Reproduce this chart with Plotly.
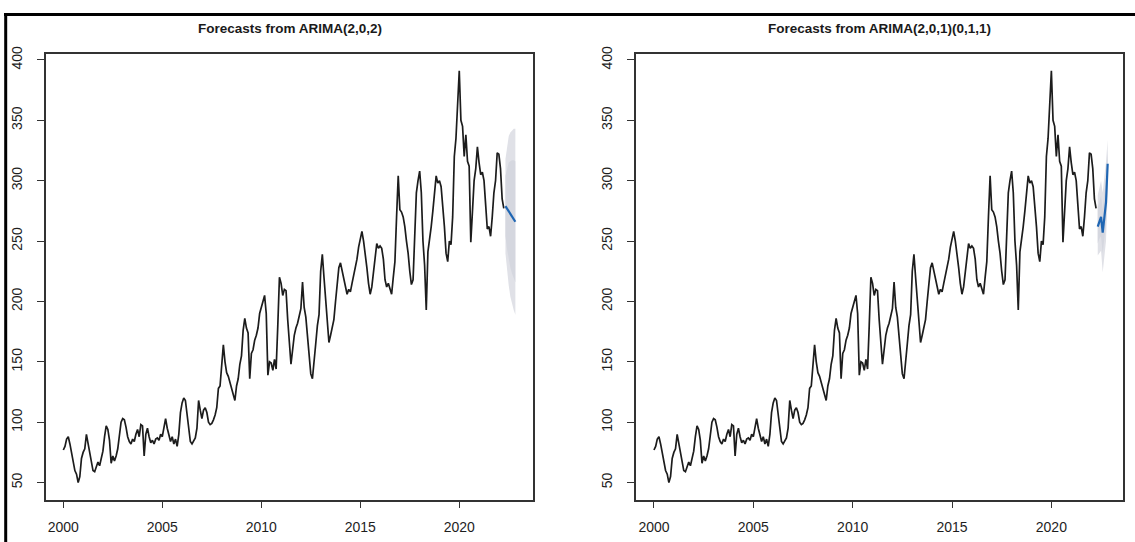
import plotly.graph_objects as go

# Monthly series, Jan 2000 .. Apr 2022
start_year = 2000
series = [
    77, 80, 86, 88, 82, 75, 68, 60, 57, 50, 55, 70,        # 2000
    75, 78, 90, 82, 74, 66, 60, 59, 64, 67, 64, 70,        # 2001
    76, 88, 97, 94, 85, 66, 72, 68, 72, 78, 88, 100,       # 2002
    103, 102, 96, 88, 84, 82, 86, 84, 90, 94, 88, 98,      # 2003
    97, 72, 90, 95, 88, 83, 85, 82, 86, 87, 85, 90,        # 2004
    88, 96, 103, 95, 90, 84, 88, 82, 86, 80, 90, 108,      # 2005
    116, 120, 118, 105, 96, 84, 82, 84, 87, 95, 118, 110,  # 2006
    103, 110, 112, 108, 100, 98, 99, 102, 106, 112, 128, 130,  # 2007
    148, 164, 150, 141, 138, 133, 128, 124, 118, 130, 136, 148,  # 2008
    155, 176, 186, 178, 174, 136, 157, 160, 168, 172, 178, 190,  # 2009
    196, 200, 205, 190, 139, 150, 149, 143, 152, 144, 180, 220,  # 2010
    215, 205, 210, 209, 185, 168, 148, 160, 172, 178, 182, 188,  # 2011
    194, 216, 195, 187, 170, 150, 140, 136, 148, 165, 180, 189,  # 2012
    225, 239, 220, 200, 185, 166, 172, 180, 185, 200, 212, 228,  # 2013
    232, 225, 220, 212, 206, 210, 208, 215, 222, 226, 235, 245,  # 2014
    252, 258, 250, 240, 228, 215, 206, 212, 225, 238, 248, 244,  # 2015
    246, 244, 235, 218, 212, 215, 210, 206, 220, 233, 270, 304,  # 2016
    276, 274, 270, 262, 250, 240, 225, 214, 218, 250, 290, 300,  # 2017
    308, 290, 250, 230, 193, 241, 250, 262, 275, 290, 304, 298,  # 2018
    300, 295, 280, 262, 240, 233, 250, 247, 270, 320, 335, 365,  # 2019
    391, 350, 345, 320, 338, 316, 312, 249, 275, 300, 310, 328,  # 2020
    315, 305, 307, 300, 280, 260, 262, 254, 270, 290, 300, 323,  # 2021
    322, 310, 285, 277,                                          # 2022
]

# Forecast horizon: May .. Nov 2022
fc_start_month = 4  # zero-based month index within 2022

# ARIMA(2,0,2)
m1_mean = [279, 277, 275, 272, 270, 268, 266]
m1_lo80 = [254, 243, 235, 228, 223, 219, 216]
m1_hi80 = [304, 311, 315, 316, 317, 317, 316]
m1_lo95 = [240, 224, 213, 204, 198, 193, 189]
m1_hi95 = [318, 330, 337, 340, 342, 343, 343]

# ARIMA(2,0,1)(0,1,1)
m2_mean = [262, 266, 270, 257, 270, 282, 314]
m2_lo80 = [248, 252, 254, 240, 252, 264, 300]
m2_hi80 = [278, 282, 288, 276, 290, 302, 326]
m2_lo95 = [238, 240, 242, 224, 236, 250, 290]
m2_hi95 = [288, 294, 300, 290, 302, 316, 334]

titles = ["Forecasts from ARIMA(2,0,2)", "Forecasts from ARIMA(2,0,1)(0,1,1)"]
x_ticks = [2000, 2005, 2010, 2015, 2020]
y_ticks = [50, 100, 150, 200, 250, 300, 350, 400]

W, H = 1135, 542
hist_t = [start_year + i / 12 for i in range(len(series))]
fc_t = [2022 + (fc_start_month + k) / 12 for k in range(len(m1_mean))]

LINE = "#1c1c1c"
FC_BLUE = "#1f66b3"
SHADE95 = "#e0e1e7"
SHADE80 = "#d5d7df"
FONT = "Liberation Sans, Arial, sans-serif"

fig = go.Figure()

models = [
    (m1_mean, m1_lo80, m1_hi80, m1_lo95, m1_hi95),
    (m2_mean, m2_lo80, m2_hi80, m2_lo95, m2_hi95),
]

for p, (mean, lo80, hi80, lo95, hi95) in enumerate(models):
    xa = "x" if p == 0 else "x2"
    ya = "y" if p == 0 else "y2"
    # prediction intervals as closed polygons
    for lo, hi, col in ((lo95, hi95, SHADE95), (lo80, hi80, SHADE80)):
        fig.add_trace(go.Scatter(
            x=fc_t + fc_t[::-1], y=hi + lo[::-1], fill="toself",
            fillcolor=col, line=dict(width=0), mode="lines",
            hoverinfo="skip", showlegend=False, xaxis=xa, yaxis=ya))
    fig.add_trace(go.Scatter(
        x=hist_t, y=series, mode="lines",
        line=dict(color=LINE, width=1.7), showlegend=False,
        xaxis=xa, yaxis=ya))
    fig.add_trace(go.Scatter(
        x=fc_t, y=mean, mode="lines",
        line=dict(color=FC_BLUE, width=2.2), showlegend=False,
        xaxis=xa, yaxis=ya))

def px_x(v):
    return v / W

def px_y(v):
    return (H - v) / H

axis_common = dict(
    showgrid=False, zeroline=False, showline=True, mirror=True,
    linecolor="#333333", linewidth=1.7, ticks="outside", ticklen=7,
    tickwidth=1.3, tickcolor="#333333",
    tickfont=dict(family=FONT, size=14, color="#1e1e1e"),
)

dom_y = [px_y(499), px_y(46.7)]
fig.update_layout(
    width=W, height=H, margin=dict(l=0, r=0, t=0, b=0),
    paper_bgcolor="white", plot_bgcolor="white",
    xaxis=dict(domain=[px_x(45.7), px_x(533.3)], range=[1999.11, 2023.74],
               tickvals=x_ticks, ticklabelstandoff=7, **axis_common),
    yaxis=dict(domain=dom_y, range=[35.9, 404.9], tickvals=y_ticks,
               tickangle=-90, ticklabelstandoff=9, **axis_common),
    xaxis2=dict(domain=[px_x(635.7), px_x(1123.3)], range=[1999.08, 2023.62],
                tickvals=x_ticks, ticklabelstandoff=7, anchor="y2", **axis_common),
    yaxis2=dict(domain=dom_y, range=[35.9, 404.9], tickvals=y_ticks,
                tickangle=-90, ticklabelstandoff=9, anchor="x2", **axis_common),
)

# panel titles
for cx, text in ((289.5, titles[0]), (879.5, titles[1])):
    fig.add_annotation(
        x=px_x(cx), y=px_y(21), xref="paper", yref="paper",
        text="<b>" + text + "</b>", showarrow=False,
        font=dict(family=FONT, size=13.5, color="#1a1a1a"),
        xanchor="center", yanchor="middle")

# outer frame along the top and left edges
fig.add_shape(type="line", xref="paper", yref="paper",
              x0=px_x(4), x1=1, y0=px_y(6.5), y1=px_y(6.5),
              line=dict(color="black", width=3))
fig.add_shape(type="line", xref="paper", yref="paper",
              x0=px_x(5.7), x1=px_x(5.7), y0=0, y1=px_y(5),
              line=dict(color="black", width=3))

fig.write_html("out.html")
